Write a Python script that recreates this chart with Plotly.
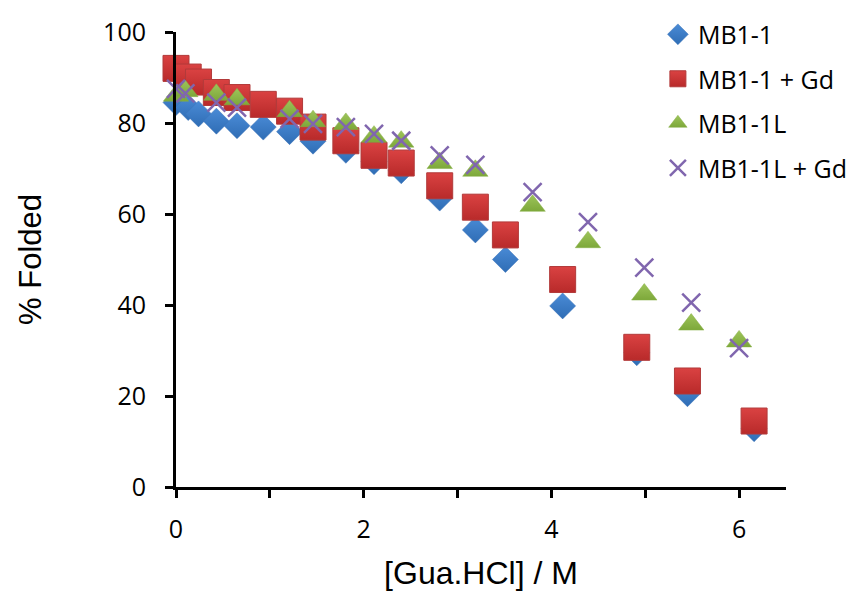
import plotly.graph_objects as go

# Data
x_mb11 = [0, 0.13, 0.24, 0.43, 0.65, 0.93, 1.21, 1.46, 1.81, 2.11, 2.40, 2.81, 3.19, 3.51, 4.12, 4.91, 5.45, 6.16]
y_mb11 = [84.5, 83.4, 82.0, 80.4, 79.4, 79.1, 78.1, 76.0, 74.0, 71.5, 69.5, 63.5, 56.5, 50.0, 39.8, 29.5, 20.5, 12.8]
y_mb11_gd = [92.0, 90.1, 89.0, 86.7, 85.6, 84.1, 82.6, 79.1, 76.1, 72.9, 71.2, 66.2, 61.5, 55.4, 45.6, 30.7, 23.3, 14.5]

x_mb11l = [0, 0.1, 0.43, 0.65, 1.21, 1.46, 1.81, 2.11, 2.40, 2.81, 3.19, 3.80, 4.39, 4.99, 5.49, 6.00]
y_mb11l = [86.0, 87.0, 86.2, 85.2, 82.6, 80.4, 79.8, 77.0, 75.9, 71.2, 69.5, 61.8, 53.8, 42.3, 35.7, 32.0]
y_mb11l_gd = [87.5, 86.5, 84.5, 83.4, 80.9, 79.8, 79.1, 77.6, 76.1, 72.9, 70.8, 64.8, 58.2, 48.2, 40.5, 30.5]

series_names = ["MB1-1", "MB1-1 + Gd", "MB1-1L", "MB1-1L + Gd"]

fig = go.Figure()

fig.add_trace(go.Scatter(
    x=x_mb11, y=y_mb11, mode="markers", name=series_names[0], legendgroup="a",
    cliponaxis=False,
    marker=dict(symbol="diamond", size=20, color="#4A8BD6",
                gradient=dict(type="vertical", color="#2F6DB5"),
                line=dict(width=0.5, color="#3A72B8")),
))
fig.add_trace(go.Scatter(
    x=x_mb11, y=y_mb11_gd, mode="markers", name=series_names[1], legendgroup="b",
    cliponaxis=False,
    marker=dict(symbol="square", size=26, color="#DA4242",
                gradient=dict(type="vertical", color="#B82A2A"),
                line=dict(width=1, color="#B23A3A")),
))
fig.add_trace(go.Scatter(
    x=x_mb11l, y=y_mb11l, mode="markers", name=series_names[2], legendgroup="c",
    cliponaxis=False,
    marker=dict(symbol="triangle-up", size=22, color="#9DC45A",
                gradient=dict(type="vertical", color="#7DA83A"),
                line=dict(width=0.5, color="#86AE45")),
))
fig.add_trace(go.Scatter(
    x=x_mb11l, y=y_mb11l_gd, mode="markers", name=series_names[3], legendgroup="d",
    cliponaxis=False,
    marker=dict(symbol="x-thin", size=18, color="#8066AE",
                line=dict(width=2.5, color="#8066AE")),
))

fig.update_layout(
    width=865, height=597,
    margin=dict(l=176, r=78, t=25, b=107),
    paper_bgcolor="white", plot_bgcolor="white",
    showlegend=True,
    legend=dict(
        x=0.79, y=1.045, xanchor="left", yanchor="top",
        font=dict(family="Open Sans, sans-serif", size=25, color="black"),
        traceorder="grouped", tracegroupgap=9,
        bgcolor="rgba(0,0,0,0)",
    ),
    font=dict(family="Open Sans, sans-serif", color="black"),
)

fig.update_xaxes(
    range=[0, 6.5], dtick=2, tick0=0,
    showgrid=False, zeroline=False,
    showline=True, linecolor="black", linewidth=3,
    ticks="outside", ticklen=8, tickwidth=3, tickcolor="black",
    ticklabelstandoff=10,
    minor=dict(dtick=1, tick0=0, ticks="outside", ticklen=8, tickwidth=3, tickcolor="black"),
    tickfont=dict(family="Open Sans, sans-serif", size=25, color="black"),
    title=dict(text="[Gua.HCl] / M", standoff=18,
               font=dict(family="Liberation Sans, Arial, sans-serif", size=32, color="black")),
)
fig.update_yaxes(
    range=[0, 100], dtick=20, tick0=0,
    showgrid=False, zeroline=False,
    showline=True, linecolor="black", linewidth=3,
    ticks="outside", ticklen=8, tickwidth=3, tickcolor="black",
    ticklabelstandoff=14,
    tickfont=dict(family="Open Sans, sans-serif", size=25, color="black"),
    title=dict(text="% Folded", standoff=53,
               font=dict(family="Liberation Sans, Arial, sans-serif", size=31, color="black")),
)

fig.write_html("out.html")
